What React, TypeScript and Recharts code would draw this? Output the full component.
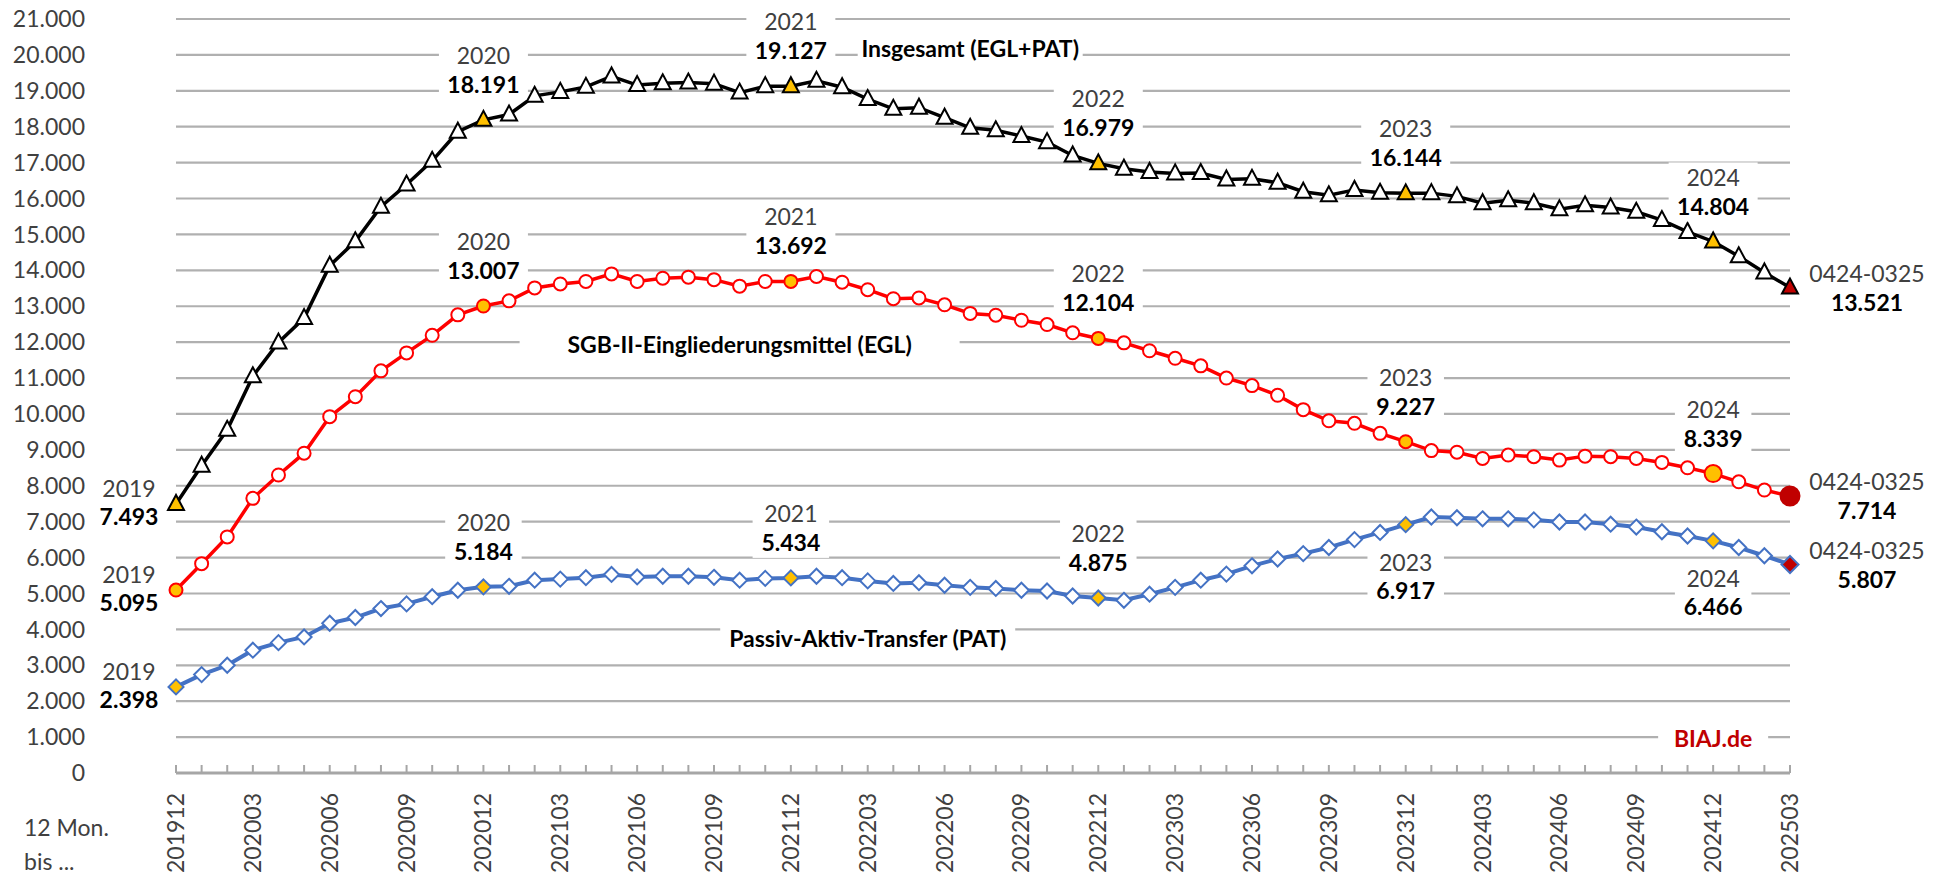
import { CartesianGrid, Line, LineChart, ReferenceDot, XAxis, YAxis } from "recharts";

const months = [
  "201912", "202001", "202002", "202003", "202004", "202005", "202006", "202007",
  "202008", "202009", "202010", "202011", "202012", "202101", "202102", "202103",
  "202104", "202105", "202106", "202107", "202108", "202109", "202110", "202111",
  "202112", "202201", "202202", "202203", "202204", "202205", "202206", "202207",
  "202208", "202209", "202210", "202211", "202212", "202301", "202302", "202303",
  "202304", "202305", "202306", "202307", "202308", "202309", "202310", "202311",
  "202312", "202401", "202402", "202403", "202404", "202405", "202406", "202407",
  "202408", "202409", "202410", "202411", "202412", "202501", "202502", "202503",
];

// Insgesamt (EGL+PAT)
const insgesamt = [
  7493, 8560, 9560, 11050, 11990, 12670, 14130, 14810, 15770, 16390, 17050, 17860,
  18191, 18340, 18860, 18970, 19110, 19400, 19160, 19210, 19230, 19200, 18950, 19130,
  19127, 19280, 19100, 18770, 18500, 18530, 18250, 17970, 17900, 17740, 17570, 17200,
  16979, 16830, 16740, 16700, 16710, 16530, 16550, 16440, 16190, 16090, 16240, 16160,
  16144, 16150, 16060, 15870, 15950, 15870, 15700, 15810, 15750, 15630, 15400, 15070,
  14804, 14390, 13940, 13521,
];

// SGB-II-Eingliederungsmittel (EGL)
const egl = [
  5095, 5830, 6576, 7650, 8300, 8907, 9925, 10480, 11200, 11700, 12190, 12760,
  13007, 13150, 13510, 13620, 13690, 13900, 13690, 13780, 13810, 13740, 13560, 13690,
  13692, 13830, 13670, 13460, 13210, 13230, 13040, 12800, 12750, 12610, 12490, 12260,
  12104, 11980, 11760, 11550, 11340, 11000, 10790, 10520, 10120, 9810, 9740, 9460,
  9227, 8980, 8935, 8760, 8855, 8810, 8715, 8825, 8810, 8760, 8650, 8500,
  8339, 8110, 7880, 7714,
];

// Passiv-Aktiv-Transfer (PAT)
const pat = [
  2398, 2740, 3000, 3420, 3630, 3790, 4170, 4330, 4580, 4710, 4910, 5090,
  5184, 5200, 5370, 5400, 5440, 5530, 5460, 5480, 5480, 5450, 5370, 5420,
  5434, 5480, 5440, 5350, 5280, 5300, 5230, 5170, 5140, 5090, 5070, 4930,
  4875, 4810, 4980, 5170, 5370, 5540, 5770, 5960, 6110, 6280, 6500, 6700,
  6917, 7130, 7110, 7080, 7080, 7050, 6990, 6990, 6930, 6850, 6720, 6600,
  6466, 6280, 6050, 5807,
];

const yTicks = [
  0, 1000, 2000, 3000, 4000, 5000, 6000, 7000, 8000, 9000, 10000,
  11000, 12000, 13000, 14000, 15000, 16000, 17000, 18000, 19000, 20000, 21000,
];

// highlighted points with their year label
const markIndex = [0, 12, 24, 36, 48, 60, 63];
const markYear = ["2019", "2020", "2021", "2022", "2023", "2024", "0424-0325"];

const FONT = "Lato, 'Open Sans', sans-serif";
const FS = 23;
const LAST = months.length - 1;

const chartData = months.map((m, i) => ({
  m,
  ges: insgesamt[i],
  egl: egl[i],
  pat: pat[i],
}));

const fmt = (v: number) => String(v).replace(/\B(?=(\d{3})+(?!\d))/g, ".");

const markFill = (index: number) =>
  index === LAST ? "#c00000" : markIndex.includes(index) ? "#ffc000" : "#ffffff";

// year + value annotation next to a highlighted point
function Annotation({ x, y, index, value, below }: any) {
  const k = markIndex.indexOf(index);
  if (k < 0) return null;
  let cx = x;
  let y1: number;
  let y2: number;
  if (index === 0) {
    cx = x - 47;
    y1 = y - 15;
    y2 = y + 13;
  } else if (index === LAST) {
    cx = x + 77;
    y1 = y - 14;
    y2 = y + 15;
  } else if (below) {
    y1 = y + 38;
    y2 = y + 66;
  } else {
    y1 = y - 64;
    y2 = y - 35;
  }
  const val = fmt(value);
  const w = Math.max(markYear[k].length, val.length) * 12.5 + 14;
  return (
    <g>
      {index > 0 && index < LAST && (
        <rect x={cx - w / 2} y={y1 - 15} width={w} height={y2 - y1 + 30} fill="#ffffff" />
      )}
      <text x={cx} y={y1} dy="0.35em" textAnchor="middle" fontFamily={FONT} fontSize={FS} fill="#404040">
        {markYear[k]}
      </text>
      <text x={cx} y={y2} dy="0.35em" textAnchor="middle" fontFamily={FONT} fontSize={FS} fontWeight="bold" fill="#000000">
        {val}
      </text>
    </g>
  );
}

const TriangleDot = (props: any) => {
  const { cx, cy, index, value } = props;
  if (cx == null || cy == null) return <g key={`t-${index}`} />;
  return (
    <g key={`t-${index}`}>
      <polygon
        points={`${cx},${cy - 9} ${cx - 8},${cy + 6} ${cx + 8},${cy + 6}`}
        fill={markFill(index)}
        stroke="#000000"
        strokeWidth={2}
      />
      <Annotation x={cx} y={cy} index={index} value={value} />
    </g>
  );
};

const CircleDot = (props: any) => {
  const { cx, cy, index, value } = props;
  if (cx == null || cy == null) return <g key={`c-${index}`} />;
  const r = index === LAST ? 9.5 : index === 60 ? 8.5 : 6.5;
  return (
    <g key={`c-${index}`}>
      <circle
        cx={cx}
        cy={cy}
        r={r}
        fill={markFill(index)}
        stroke={index === LAST ? "#c00000" : "#ff0000"}
        strokeWidth={2}
      />
      <Annotation x={cx} y={cy} index={index} value={value} />
    </g>
  );
};

const DiamondDot = (props: any) => {
  const { cx, cy, index, value } = props;
  if (cx == null || cy == null) return <g key={`d-${index}`} />;
  const s = index === LAST ? 8.5 : 7.5;
  return (
    <g key={`d-${index}`}>
      <polygon
        points={`${cx},${cy - s} ${cx + s},${cy} ${cx},${cy + s} ${cx - s},${cy}`}
        fill={markFill(index)}
        stroke="#4472c4"
        strokeWidth={2}
      />
      <Annotation x={cx} y={cy} index={index} value={value} below={index === 48 || index === 60} />
    </g>
  );
};

const MonthTick = (props: any) => {
  const { x, y, index, payload } = props;
  return (
    <g>
      <line x1={x} y1={y - 8} x2={x} y2={y} stroke="#a6a6a6" strokeWidth={2} />
      {index % 3 === 0 && (
        <text
          x={x}
          y={y + 20}
          dy="0.35em"
          textAnchor="end"
          transform={`rotate(-90, ${x}, ${y + 20})`}
          fontFamily={FONT}
          fontSize={FS}
          fill="#404040"
        >
          {payload.value}
        </text>
      )}
    </g>
  );
};

// free text boxes in the plot (series names, source)
const textBox = (text: string, boxW: number, color: string) => (props: any) => {
  const vb = props.viewBox || {};
  const cx = (vb.x ?? 0) + (vb.width ?? 0) / 2;
  const cy = (vb.y ?? 0) + (vb.height ?? 0) / 2;
  return (
    <g>
      <rect x={cx - boxW / 2} y={cy - 16} width={boxW} height={32} fill="#ffffff" />
      <text x={cx} y={cy} dy="0.35em" textAnchor="middle" fontFamily={FONT} fontSize={FS} fontWeight="bold" fill={color}>
        {text}
      </text>
    </g>
  );
};

export default function App() {
  return (
    <div style={{ position: "relative", width: 1943, height: 880, background: "#ffffff" }}>
      <style>{"body{margin:0}"}</style>
      <LineChart
        width={1943}
        height={880}
        data={chartData}
        margin={{ top: 19, right: 153, left: 0, bottom: 0 }}
      >
        <CartesianGrid vertical={false} stroke="#b0b0b0" strokeWidth={2.2} />
        <XAxis
          dataKey="m"
          interval={0}
          height={107}
          tickSize={0}
          tickMargin={0}
          tickLine={false}
          axisLine={{ stroke: "#a6a6a6", strokeWidth: 3 }}
          tick={<MonthTick />}
        />
        <YAxis
          width={176}
          domain={[0, 21000]}
          ticks={yTicks}
          interval={0}
          axisLine={false}
          tickLine={false}
          tickSize={0}
          tickMargin={91}
          tickFormatter={(v: number) => fmt(v)}
          tick={{ fill: "#404040", fontSize: FS, fontFamily: FONT }}
        />
        <Line
          dataKey="pat"
          type="linear"
          stroke="#4472c4"
          strokeWidth={4}
          dot={DiamondDot}
          activeDot={false}
          isAnimationActive={false}
        />
        <Line
          dataKey="egl"
          type="linear"
          stroke="#ff0000"
          strokeWidth={3.5}
          dot={CircleDot}
          activeDot={false}
          isAnimationActive={false}
        />
        <Line
          dataKey="ges"
          type="linear"
          stroke="#000000"
          strokeWidth={3.5}
          dot={TriangleDot}
          activeDot={false}
          isAnimationActive={false}
        />
        <ReferenceDot x="202207" y={20160} r={1} fill="none" stroke="none" label={{ content: textBox("Insgesamt (EGL+PAT)", 225, "#000000") }} />
        <ReferenceDot x="202110" y={11920} r={1} fill="none" stroke="none" label={{ content: textBox("SGB-II-Eingliederungsmittel (EGL)", 440, "#000000") }} />
        <ReferenceDot x="202203" y={3720} r={1} fill="none" stroke="none" label={{ content: textBox("Passiv-Aktiv-Transfer (PAT)", 295, "#000000") }} />
        <ReferenceDot x="202412" y={940} r={1} fill="none" stroke="none" label={{ content: textBox("BIAJ.de", 110, "#c00000") }} />
      </LineChart>
      <div style={{ position: "absolute", left: 24, top: 810, fontFamily: FONT, fontSize: FS, color: "#404040", lineHeight: "34px" }}>
        12 Mon.
        <br />
        bis ...
      </div>
    </div>
  );
}
